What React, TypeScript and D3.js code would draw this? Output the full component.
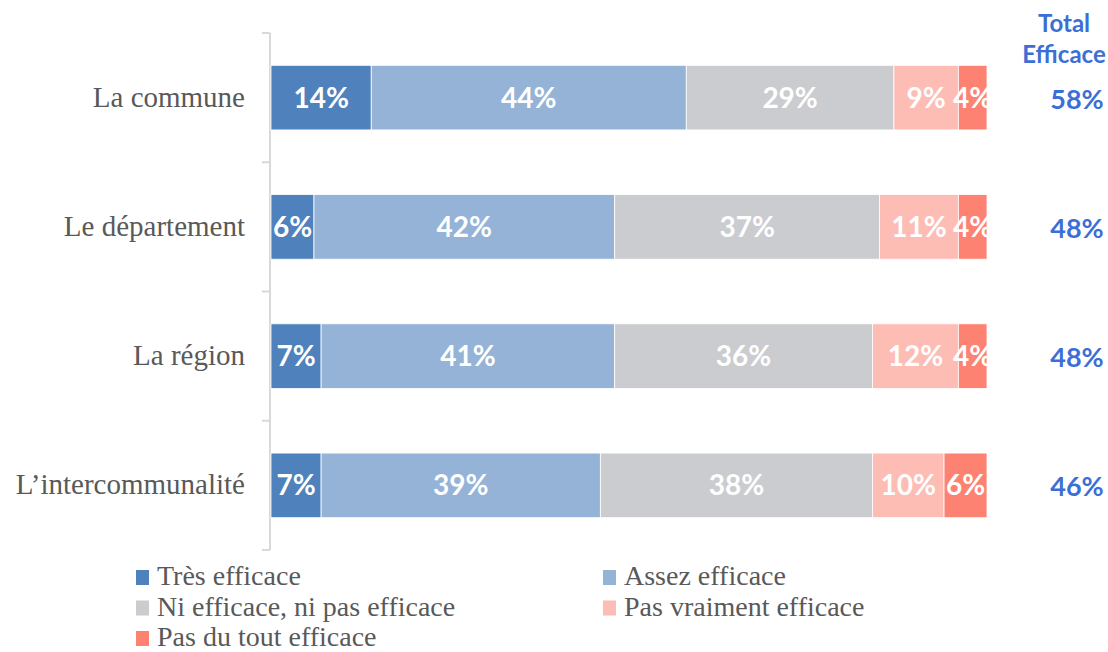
import React from "react";
import * as d3 from "d3";

const categories = ["La commune", "Le département", "La région", "L\u2019intercommunalité"];
const seriesNames = [
  "Très efficace",
  "Assez efficace",
  "Ni efficace, ni pas efficace",
  "Pas vraiment efficace",
  "Pas du tout efficace",
];
const tresEfficace = [14, 6, 7, 7];
const assezEfficace = [44, 42, 41, 39];
const niNi = [29, 37, 36, 38];
const pasVraiment = [9, 11, 12, 10];
const pasDuTout = [4, 4, 4, 6];
const totalEfficace = [58, 48, 48, 46];
const colors = ["#4f81bd", "#95b3d7", "#cbcccf", "#fdbcb4", "#fd8272"];

const W = 1108;
const H = 652;

export default function App() {
  const series = [tresEfficace, assezEfficace, niNi, pasVraiment, pasDuTout];
  const y = d3.scaleBand<string>().domain(categories).range([33, 550]).paddingInner(0.5).paddingOuter(0.25);
  const x = d3.scaleLinear().domain([0, 100]).range([271, 987]);

  const rows = categories.map((c, i) => {
    let acc = 0;
    return series.map((s, k) => {
      const x0 = acc;
      acc += s[i];
      return { k, x0, x1: acc, v: s[i] };
    });
  });

  const boundaries = [y.range()[0], ...categories.map((c) => (y(c) as number) + y.bandwidth() + (y.step() * y.paddingInner()) / 2)];
  const labelFont = "'Liberation Serif', serif";
  const numFont = "Lato, 'Open Sans', sans-serif";

  const legend = [
    { k: 0, x: 136, y: 577 },
    { k: 1, x: 603, y: 577 },
    { k: 2, x: 136, y: 607.5 },
    { k: 3, x: 603, y: 607.5 },
    { k: 4, x: 136, y: 638 },
  ];

  return (
    <svg width={W} height={H} style={{ position: "absolute", left: 0, top: 0, background: "#fff" }}>
      <defs>
        <clipPath id="barclip">
          <rect x={x(0)} y={0} width={x(100) - x(0)} height={H} />
        </clipPath>
      </defs>
      <line x1={270} x2={270} y1={boundaries[0]} y2={boundaries[boundaries.length - 1]} stroke="#d9d9d9" strokeWidth={2} />
      {boundaries.map((b, i) => (
        <line key={i} x1={262} x2={270} y1={b} y2={b} stroke="#d9d9d9" strokeWidth={2} />
      ))}
      {categories.map((c, i) => {
        const yc = (y(c) as number) + y.bandwidth() / 2;
        return (
          <g key={c}>
            <text x={245} y={yc + 9} textAnchor="end" fontFamily={labelFont} fontSize={29} fill="#595959">
              {c}
            </text>
            {rows[i].map((seg) => (
              <rect
                key={seg.k}
                x={x(seg.x0)}
                y={y(c)}
                width={x(seg.x1) - x(seg.x0)}
                height={y.bandwidth()}
                fill={colors[seg.k]}
                stroke="#ffffff"
                strokeWidth={0.8}
              />
            ))}
            <g clipPath="url(#barclip)">
              {rows[i].map((seg) => (
                <text
                  key={seg.k}
                  x={(x(seg.x0) + x(seg.x1)) / 2}
                  y={yc + 10}
                  textAnchor="middle"
                  fontFamily={numFont}
                  fontWeight="bold"
                  fontSize={28}
                  fill="#ffffff"
                >
                  {seg.v}%
                </text>
              ))}
            </g>
            <text x={1077} y={yc + 11} textAnchor="middle" fontFamily={numFont} fontWeight="bold" fontSize={27} fill="#3b6fd6">
              {totalEfficace[i]}%
            </text>
          </g>
        );
      })}
      <text x={1064} y={32} textAnchor="middle" fontFamily={numFont} fontWeight="bold" fontSize={24} fill="#3b6fd6">
        Total
      </text>
      <text x={1064} y={63} textAnchor="middle" fontFamily={numFont} fontWeight="bold" fontSize={24} fill="#3b6fd6">
        Efficace
      </text>
      {legend.map((l) => (
        <g key={l.k}>
          <rect x={l.x} y={l.y - 7} width={13} height={15} fill={colors[l.k]} />
          <text x={l.x + 21} y={l.y + 8} fontFamily={labelFont} fontSize={28} fill="#595959">
            {seriesNames[l.k]}
          </text>
        </g>
      ))}
    </svg>
  );
}
